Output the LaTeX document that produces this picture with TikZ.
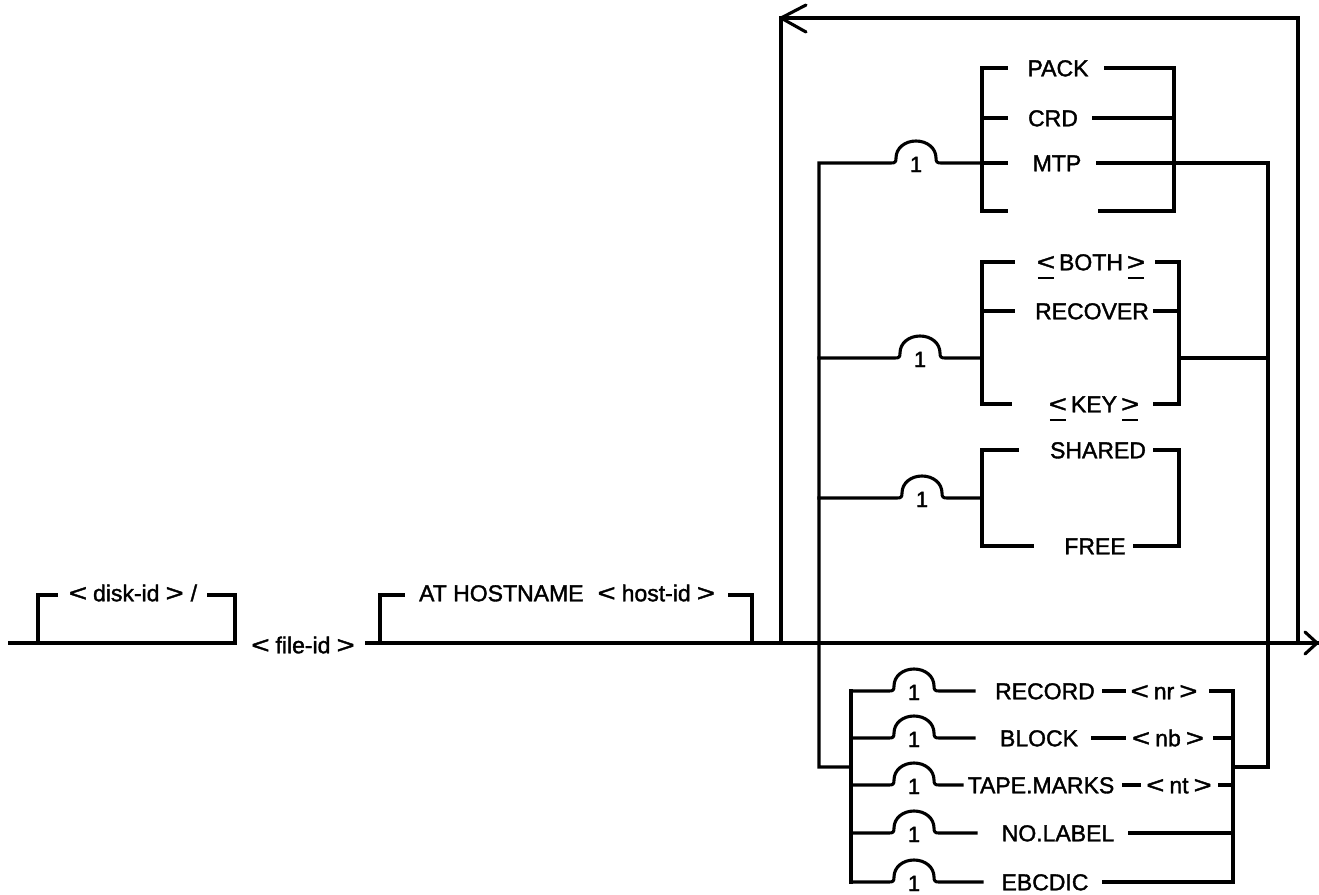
\documentclass[tikz,border=0pt]{standalone}
\usepackage{graphicx}
\usepackage{fontspec}
\setmainfont{Liberation Sans}[BoldFont={Liberation Sans},BoldFeatures={FakeBold=1.6}]
\newcommand\ulsym[1]{\setbox0=\hbox{#1}\rlap{\kern1pt\rule[-9pt]{\dimexpr\wd0-2pt\relax}{1.8pt}}\box0}
\newcommand\lt{\scalebox{1.35}[1.05]{<}}
\newcommand\gt{\scalebox{1.35}[1.05]{>}}
\begin{document}
\begin{tikzpicture}[x=1pt,y=-1pt,line width=3.1pt,line cap=rect,line join=miter,
  lbl/.style={inner sep=0pt,font=\fontsize{23}{27}\selectfont\bfseries,text height=16.5pt,text depth=0pt},
  one/.style={inner sep=0pt,font=\fontsize{22}{24}\selectfont\bfseries,text height=16pt,text depth=0pt},
  hump/.style={to path={.. controls +(4,0) and +(0,4) .. ++(5,-5) .. controls +(0,-10) and +(-11,0) .. ++(20,-17) .. controls +(11,0) and +(0,-10) .. ++(20,17) .. controls +(0,4) and +(-4,0) .. ++(5,5) -- (\tikztotarget)}}]
\useasboundingbox (0,0) rectangle (1319,894);

% texts
\node[lbl] (disk) at (133,593) {\lt\hspace{6pt}disk-id\hspace{6pt}\gt\hspace{7pt}/};
\node[lbl] (file) at (303,645) {\lt\hspace{6pt}file-id\hspace{6pt}\gt};
\node[lbl] (host) at (567,593) {AT HOSTNAME\hspace{14pt}\lt\hspace{6pt}host-id\hspace{6pt}\gt};
\node[lbl] (pack) at (1058,68) {PACK};
\node[lbl] (crd) at (1053,118) {CRD};
\node[lbl] (mtp) at (1057,163) {MTP};
\node[lbl] (both) at (1091,262) {\ulsym{\lt}\hspace{4pt}BOTH\hspace{4pt}\ulsym{\gt}};
\node[lbl] (recover) at (1092,311) {RECOVER};
\node[lbl] (key) at (1094,404) {\ulsym{\lt}\hspace{4pt}KEY\hspace{4pt}\ulsym{\gt}};
\node[lbl] (shared) at (1098,450) {SHARED};
\node[lbl] (free) at (1095,546) {FREE};
\node[lbl] (record) at (1045,691) {RECORD};
\node[lbl] (nr) at (1164,691) {\lt\hspace{5pt}nr\hspace{5pt}\gt};
\node[lbl] (block) at (1039,738) {BLOCK};
\node[lbl] (nb) at (1168,738) {\lt\hspace{5pt}nb\hspace{5pt}\gt};
\node[lbl] (tape) at (1041,785) {TAPE.MARKS};
\node[lbl] (nt) at (1179,785) {\lt\hspace{5pt}nt\hspace{5pt}\gt};
\node[lbl] (nolabel) at (1058,833) {NO.LABEL};
\node[lbl] (ebcdic) at (1045,882) {EBCDIC};

\node[one] (o1) at (916,164) {1};
\node[one] (o2) at (920,359) {1};
\node[one] (o3) at (922,499) {1};
\node[one] (o4) at (914,692) {1};
\node[one] (o5) at (914,739) {1};
\node[one] (o6) at (914,786) {1};
\node[one] (o7) at (914,834) {1};
\node[one] (o8) at (914,883) {1};

% main line
\coordinate (start) at (10,643);
\coordinate (finish) at (1317,643);
\draw (start) -- (235,643);
\draw (367,643) -- (finish);
\draw[line join=round,line cap=round] (1305,632) -- (finish) -- (1305,654);

% optional disk-id
\draw (38,643) -- (38,595) -- (56,595);
\draw (209,595) -- (235,595) -- (235,643);
% optional host
\draw (380,643) -- (380,595) -- (403,595);
\draw (730,595) -- (752,595) -- (752,643);

% repeat loop
\coordinate (looptip) at (781,18);
\draw (781,643) -- (looptip) -- (1298,18) -- (1298,643);
\draw[line join=round,line cap=round] (806,5) -- (looptip) -- (806,32);

% bus
\draw (851,767) -- (819,767) -- (819,163) -- (891,163) to[hump] (982,163);
\draw (1098,163) -- (1268,163) -- (1268,767) -- (1233,767);

% PACK group
\draw (1006,68) -- (982,68) -- (982,211) -- (1006,211);
\draw (982,118) -- (1006,118);
\draw (982,163) -- (1006,163);
\draw (1106,68) -- (1174,68) -- (1174,211) -- (1100,211);
\draw (1094,118) -- (1174,118);

% BOTH group
\draw (819,358) -- (895,358) to[hump] (982,358);
\draw (1013,262) -- (982,262) -- (982,404) -- (1010,404);
\draw (982,311) -- (1013,311);
\draw (1157,262) -- (1179,262) -- (1179,404) -- (1155,404);
\draw (1155,311) -- (1179,311);
\draw (1179,358) -- (1268,358);

% SHARED group
\draw (819,498) -- (897,498) to[hump] (982,498);
\draw (1017,450) -- (982,450) -- (982,546) -- (1032,546);
\draw (1155,450) -- (1179,450) -- (1179,546) -- (1135,546);

% bottom group
\draw (851,691) -- (851,882);
\draw (1233,691) -- (1233,882);
\draw (851,691) -- (889,691) to[hump] (974,691);
\draw (1104,691) -- (1124,691);
\draw (1211,691) -- (1233,691);
\draw (851,738) -- (889,738) to[hump] (974,738);
\draw (1093,738) -- (1124,738);
\draw (1215,738) -- (1233,738);
\draw (851,785) -- (889,785) to[hump] (962,785);
\draw (1124,785) -- (1139,785);
\draw (1220,785) -- (1233,785);
\draw (851,833) -- (889,833) to[hump] (976,833);
\draw (1130,833) -- (1233,833);
\draw (851,882) -- (889,882) to[hump] (982,882);
\draw (1104,882) -- (1233,882);
\end{tikzpicture}
\end{document}
